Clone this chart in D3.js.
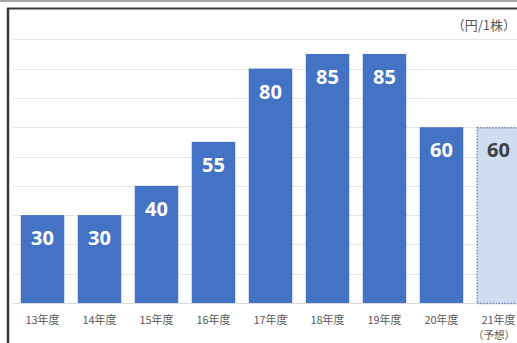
<!DOCTYPE html>
<html>
<head>
<meta charset="utf-8">
<script src="https://cdn.jsdelivr.net/npm/d3@7"></script>
<style>
  html, body { margin: 0; padding: 0; background: #fff; overflow: hidden; }
  svg { display: block; }
</style>
</head>
<body>
<div id="chart"></div>
<script>
  // chart data
  var years = ['13年度', '14年度', '15年度', '16年度', '17年度', '18年度', '19年度', '20年度', '21年度'];
  var dividends = [30, 30, 40, 55, 80, 85, 85, 60, 60];
  var forecast = [false, false, false, false, false, false, false, false, true];
  var gridTicks = [10, 20, 30, 40, 50, 60, 70, 80, 90];
  var unitLabel = '（円/1株）';
  var forecastNote = '（予想）';

  var W = 517, H = 343;

  var svg = d3.select('#chart').append('svg')
      .attr('width', W)
      .attr('height', H);

  // outer frame of the screenshot
  svg.append('rect').attr('x', 0).attr('y', 0).attr('width', W).attr('height', 2).attr('fill', '#a6a6a6');
  svg.append('line').attr('x1', 7).attr('x2', W).attr('y1', 8.5).attr('y2', 8.5)
      .attr('stroke', '#3a3a3a').attr('stroke-width', 2);
  svg.append('line').attr('x1', 8).attr('x2', 8).attr('y1', 8).attr('y2', H)
      .attr('stroke', '#3a3a3a').attr('stroke-width', 2.5);

  var x = d3.scaleBand()
      .domain(years)
      .range([14, 527])
      .paddingInner(0.237)
      .paddingOuter(0.1185);

  var y = d3.scaleLinear()
      .domain([0, 100])
      .range([303, 10]);

  // gridlines
  svg.append('g')
      .selectAll('line')
      .data(gridTicks)
      .enter().append('line')
      .attr('x1', 13).attr('x2', W)
      .attr('y1', function (d) { return Math.round(y(d)) + 0.5; })
      .attr('y2', function (d) { return Math.round(y(d)) + 0.5; })
      .attr('stroke', '#e6e6e6')
      .attr('stroke-width', 1);

  // baseline
  svg.append('line')
      .attr('x1', 13).attr('x2', W)
      .attr('y1', y(0) + 0.5).attr('y2', y(0) + 0.5)
      .attr('stroke', '#d9d9d9');

  var rows = years.map(function (yr, i) {
    return { year: yr, value: dividends[i], forecast: forecast[i] };
  });

  var bars = svg.append('g').selectAll('g')
      .data(rows)
      .enter().append('g');

  bars.append('rect')
      .attr('x', function (d) { return x(d.year) + (d.forecast ? 0.5 : 0); })
      .attr('y', function (d) { return y(d.value) + (d.forecast ? 0.5 : 0); })
      .attr('width', x.bandwidth())
      .attr('height', function (d) { return y(0) - y(d.value); })
      .attr('fill', function (d) { return d.forecast ? '#cfdcf1' : '#4472c4'; })
      .attr('stroke', function (d) { return d.forecast ? '#6a86bd' : 'none'; })
      .attr('stroke-width', 1.5)
      .attr('stroke-dasharray', function (d) { return d.forecast ? '1.5,1.5' : null; });

  bars.append('text')
      .attr('x', function (d) { return x(d.year) + x.bandwidth() / 2; })
      .attr('y', function (d) { return y(d.value) + 30; })
      .attr('text-anchor', 'middle')
      .attr('font-family', '"Noto Sans", "DejaVu Sans", sans-serif')
      .attr('font-weight', 'bold')
      .attr('font-size', 20)
      .attr('fill', function (d) { return d.forecast ? '#404040' : '#ffffff'; })
      .text(function (d) { return d.value; });

  // category labels
  var axis = svg.append('g')
      .attr('font-family', '"Noto Sans CJK JP", sans-serif')
      .attr('font-size', 11)
      .attr('fill', '#595959');

  axis.selectAll('text.cat')
      .data(rows)
      .enter().append('text')
      .attr('class', 'cat')
      .attr('x', function (d) { return x(d.year) + x.bandwidth() / 2; })
      .attr('y', 324)
      .attr('text-anchor', 'middle')
      .text(function (d) { return d.year; });

  axis.selectAll('text.note')
      .data(rows.filter(function (d) { return d.forecast; }))
      .enter().append('text')
      .attr('class', 'note')
      .attr('x', function (d) { return Math.min(x(d.year) + x.bandwidth() / 2, 494); })
      .attr('y', 339)
      .attr('text-anchor', 'middle')
      .attr('font-size', 10.5)
      .text(forecastNote);

  // unit label
  svg.append('text')
      .attr('x', 516)
      .attr('y', 30)
      .attr('text-anchor', 'end')
      .attr('font-family', '"Noto Sans CJK JP", sans-serif')
      .attr('font-size', 13)
      .attr('fill', '#595959')
      .text(unitLabel);
</script>
</body>
</html>
